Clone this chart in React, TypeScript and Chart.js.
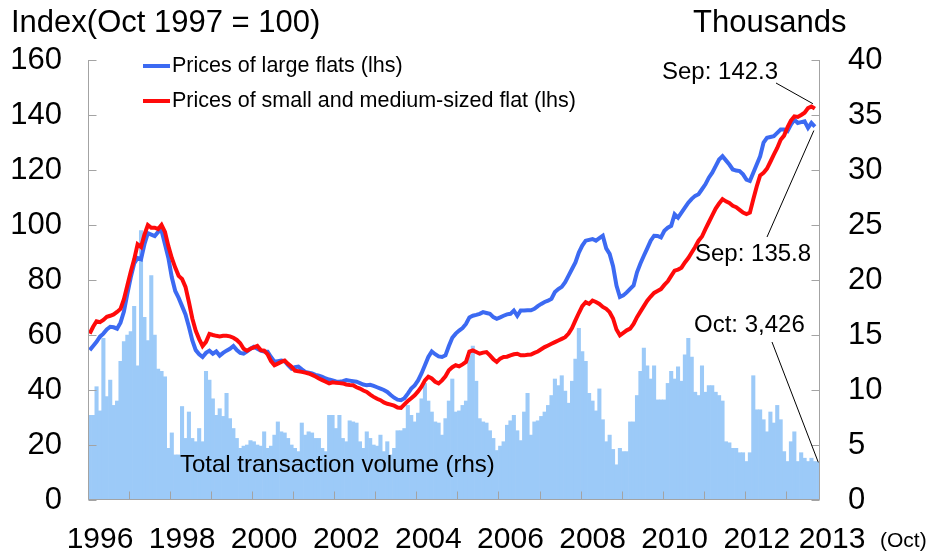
import React, { useEffect, useRef } from 'react';
import { Chart, registerables } from 'chart.js';

Chart.register(...registerables);

const FONT = '"Liberation Sans", Arial, Helvetica, sans-serif';

// Monthly, Jan 1996 .. Sep 2013 (index, Oct 1997 = 100)
const largeFlats = [
  54.5, 56, 57.5, 59.4, 60.5, 62, 63, 62.8, 62.3, 64.5, 68.5, 75,
  81, 86, 88, 87.5, 93, 97, 96.5, 96, 97.5, 98, 93, 88,
  81, 76, 73.5, 70.5, 67.5, 63, 58, 54.5, 53, 52, 53.5, 54.3,
  53.2, 54, 52.5, 53.5, 54.3, 55, 56, 54.5, 53.5, 53.2, 54, 55,
  55.7, 55, 54.3, 54, 53.9, 52, 50.3, 50.5, 50.7, 50.5, 49, 47.8,
  48.3, 48.5, 47.5, 46.6, 46.3, 46, 45.5, 45.2, 44.8, 44.2, 43.8, 43.5,
  43.1, 43, 43.2, 43.6, 43.4, 43.2, 43, 42.5, 42, 41.7, 41.9, 41.5,
  41, 40.5, 40, 39.3, 38.2, 37.2, 36.5, 36.3, 37, 38.7, 40.5, 41.7,
  43.5, 46, 49, 52, 54, 53, 52.2, 52, 52.6, 56, 59, 60.5,
  61.6, 62.5, 64, 66.4, 67, 67.3, 67.7, 68.3, 68, 67.7, 66.5, 65.9,
  66.4, 67, 67.5, 67.7, 68.9, 67, 68.9, 68.9, 69, 69, 69.5, 70.5,
  71.3, 72, 72.5, 73.2, 75.6, 76.7, 77.5, 79.2, 81.6, 84, 86.4, 90,
  92.5, 94.3, 94.6, 94.9, 94.3, 95.2, 96.1, 91.5, 89.5, 85, 78, 73.8,
  74.4, 75.5, 76.8, 78, 82.8, 86, 88.8, 91.5, 94.3, 96.1, 96, 95.5,
  97.9, 99, 99.7, 103.9, 102.7, 104.5, 106.3, 108.1, 109.5, 110.6, 111.2, 113,
  114.8, 117.2, 119, 121.4, 123.8, 125, 123.5, 122, 120.2, 119.8, 119.6, 118.4,
  116.5, 116, 119, 122, 125, 130, 131.7, 132, 132.3, 133.5, 134.7, 134.7,
  134.1, 136.5, 138.3, 137.1, 137.4, 137.7, 135.3, 137.1, 135.8,
];

const smallFlats = [
  60.5, 63, 65, 64.7, 65.5, 66.6, 67, 67.5, 68.4, 69.5, 73, 78,
  83, 87.5, 93, 92, 96.5, 100, 99, 99, 98.5, 100, 97.5, 92.3,
  88, 84.5, 81.5, 80.4, 77.5, 72, 66, 61.5, 58.5, 56, 57.5, 60.4,
  60, 59.7, 59.5, 59.7, 59.7, 59.5, 59, 58.2, 57, 55, 54.3, 55,
  55.5, 56, 54.5, 54.3, 53, 50.5, 49, 49.6, 50.2, 50.7, 49.5, 48.5,
  47, 46.8, 46.6, 46.3, 46, 45.5, 44.9, 44.2, 43.6, 43, 42.4, 42.8,
  42.6, 42.5, 42.4, 42, 41.8, 41.7, 41, 40.5, 39.8, 39.3, 38.3, 37.5,
  36.8, 36.3, 35.5, 35, 34.7, 34.3, 33.6, 33.5, 34.8, 36, 37, 38.1,
  39.5, 41.2, 43.5, 44.8, 44.2, 43, 42.4, 43.5, 45, 47.2, 48.3, 49,
  48.6, 49.3, 50.2, 54, 54.4, 53.8, 53.2, 53.6, 53.8, 52.6, 51.2, 50.2,
  51.4, 52, 52.1, 52.6, 53, 53.2, 52.6, 52.6, 52.8, 52.9, 53.5, 54,
  54.8, 55.6, 56.2, 56.8, 57.4, 58, 58.6, 59.2, 60.5, 62.5, 65.3, 68,
  70.5, 71.9, 71.3, 72.5, 72, 71.3, 70.2, 69.5, 68.3, 66, 62, 59.9,
  60.8, 61.7, 62.3, 64, 66.5, 68.5, 70.5, 72.5, 74, 75.3, 76, 76.7,
  78.2, 79.5, 81.5, 83.4, 83.8, 84.5, 86.4, 88, 90, 92, 94.3, 95.8,
  98.5, 101, 103.5, 106, 107.8, 109.4, 108.6, 108, 107, 106.5, 105.5, 104.5,
  104, 104.5, 109.4, 114, 118, 119, 120.5, 123, 125.6, 128, 131, 132.5,
  135.5, 138, 139.5, 139.3, 140, 140.8, 142.5, 143.1, 142.3,
];

// Monthly, Jan 1996 .. Oct 2013 (thousands)
const volume = [
  7.7, 7.7, 10.3, 8.1, 14.7, 9.4, 10.9, 8.6, 9.0, 12.6, 14.4, 15.0,
  15.3, 17.6, 12.2, 24.5, 16.6, 14.5, 20.4, 15.0, 11.9, 11.7, 11.2, 4.7,
  6.1, 4.1, 4.1, 8.5, 5.6, 8.0, 5.6, 5.3, 6.5, 5.3, 11.7, 10.9,
  9.2, 7.7, 8.3, 7.6, 9.7, 7.4, 6.5, 5.6, 4.7, 4.9, 5.0, 5.4,
  5.3, 5.0, 4.9, 6.2, 4.7, 4.9, 5.9, 7.1, 6.2, 6.1, 5.6, 5.0,
  4.7, 4.4, 7.0, 5.9, 6.2, 6.1, 5.6, 5.6, 4.7, 4.4, 7.7, 7.7,
  6.5, 7.7, 5.6, 5.3, 7.2, 7.1, 7.0, 5.3, 4.7, 6.2, 5.6, 5.0,
  4.9, 5.9, 4.4, 5.3, 4.1, 4.7, 6.3, 6.3, 6.5, 8.6, 7.7, 7.1,
  7.9, 9.2, 10.6, 9.0, 8.0, 7.1, 7.0, 5.9, 7.4, 9.0, 11.0, 8.0,
  8.1, 8.6, 9.0, 13.1, 14.0, 10.8, 7.4, 7.1, 7.0, 6.3, 5.6, 4.5,
  4.9, 5.3, 6.8, 7.2, 7.7, 6.3, 5.4, 8.0, 9.7, 5.9, 7.1, 7.2,
  7.6, 8.0, 8.6, 9.5, 11.0, 10.4, 11.3, 9.9, 8.8, 10.8, 12.8, 15.6,
  13.5, 12.6, 9.7, 9.0, 8.1, 10.1, 7.3, 5.3, 5.9, 4.6, 3.2, 4.7,
  4.4, 4.4, 7.1, 7.1, 9.5, 11.7, 13.8, 12.2, 11.0, 12.2, 9.1, 9.1,
  9.1, 10.6, 11.7, 11.0, 12.1, 10.8, 13.2, 14.7, 13.0, 9.8, 9.5, 12.2,
  9.8, 10.4, 10.4, 9.8, 9.5, 9.0, 5.3, 5.2, 4.7, 4.7, 4.3, 4.3,
  3.5, 4.3, 11.3, 8.2, 8.2, 7.3, 6.2, 8.0, 7.0, 8.6, 7.3, 4.4,
  3.5, 5.3, 6.2, 3.5, 4.3, 3.8, 3.5, 3.8, 3.5, 3.426,
];

const xTickLabels = ['1996', '1998', '2000', '2002', '2004', '2006', '2008', '2010', '2012', '2013'];
const xTickMonths = [0, 24, 48, 72, 96, 120, 144, 168, 192, 214];

const seriesNames = [
  'Prices of large flats (lhs)',
  'Prices of small and medium-sized flat (lhs)',
  'Total transaction volume (rhs)',
];

const BLUE = '#3c6af2';
const RED = '#ff0a0a';
const BAR = '#9ccaf8';

const toPoints = (arr: number[]) => arr.map((v, i) => ({ x: i + 0.5, y: v }));

const decor = {
  id: 'decor',
  afterDatasetsDraw(chart: any) {
    const { ctx, chartArea: ca, scales } = chart;
    const xs = scales.x;
    const ys = scales.y;
    const ys1 = scales.y1;
    ctx.save();

    // axes frame and inward ticks
    ctx.strokeStyle = '#a3a3a3';
    ctx.lineWidth = 1;
    const L = Math.round(ca.left) + 0.5;
    const R = Math.round(ca.right) - 0.5;
    const B = Math.round(ca.bottom) - 0.5;
    const T = ca.top;
    ctx.beginPath();
    ctx.moveTo(L, T);
    ctx.lineTo(L, B);
    ctx.lineTo(R, B);
    ctx.lineTo(R, T);
    ys.ticks.forEach((t: any) => {
      const p = Math.round(ys.getPixelForValue(t.value)) + 0.5;
      ctx.moveTo(L, p);
      ctx.lineTo(L + 8, p);
    });
    ys1.ticks.forEach((t: any) => {
      const p = Math.round(ys1.getPixelForValue(t.value)) + 0.5;
      ctx.moveTo(R - 8, p);
      ctx.lineTo(R, p);
    });
    for (let m = 12; m < volume.length; m += 12) {
      const p = Math.round(xs.getPixelForValue(m)) + 0.5;
      ctx.moveTo(p, B);
      ctx.lineTo(p, B - 8);
    }
    ctx.stroke();

    ctx.fillStyle = '#000';
    // axis titles
    ctx.textAlign = 'left';
    ctx.textBaseline = 'alphabetic';
    ctx.font = `31px ${FONT}`;
    ctx.fillText('Index(Oct 1997 = 100)', 11, 32);
    ctx.fillText('Thousands', 693, 32);

    // legend
    ctx.lineWidth = 4;
    ctx.lineCap = 'butt';
    ctx.strokeStyle = BLUE;
    ctx.beginPath();
    ctx.moveTo(143, 66);
    ctx.lineTo(170, 66);
    ctx.stroke();
    ctx.strokeStyle = RED;
    ctx.beginPath();
    ctx.moveTo(143, 101);
    ctx.lineTo(170, 101);
    ctx.stroke();
    ctx.font = `21.5px ${FONT}`;
    ctx.textBaseline = 'middle';
    ctx.fillText(seriesNames[0], 172, 66);
    ctx.fillText(seriesNames[1], 172, 101);

    // bar label
    ctx.font = `24px ${FONT}`;
    ctx.fillText(seriesNames[2], 180, 465);

    // annotations
    const lastI = smallFlats.length - 1;
    const lastRed = smallFlats[lastI];
    const lastBlue = largeFlats[largeFlats.length - 1];
    const lastVol = volume[volume.length - 1];
    const px = xs.getPixelForValue(lastI + 0.5);
    const pxV = xs.getPixelForValue(volume.length - 0.5);
    ctx.font = `24px ${FONT}`;
    ctx.fillText(`Sep: ${lastRed.toFixed(1)}`, 662, 72);
    ctx.fillText(`Sep: ${lastBlue.toFixed(1)}`, 695, 254);
    ctx.fillText(`Oct: ${Math.floor(lastVol)},${Math.round((lastVol % 1) * 1000)}`, 694, 325);

    ctx.strokeStyle = '#000';
    ctx.lineWidth = 1;
    ctx.beginPath();
    ctx.moveTo(776, 83);
    ctx.lineTo(px - 2, ys.getPixelForValue(lastRed) - 5);
    ctx.moveTo(767, 237);
    ctx.lineTo(px - 1, ys.getPixelForValue(lastBlue) + 4);
    ctx.moveTo(772, 342);
    ctx.lineTo(pxV, ys1.getPixelForValue(lastVol));
    ctx.stroke();

    // (Oct) note
    ctx.font = `21px ${FONT}`;
    ctx.textBaseline = 'middle';
    ctx.fillText('(Oct)', 880, 541);

    ctx.restore();
  },
};

export default function App() {
  const ref = useRef<HTMLCanvasElement | null>(null);

  useEffect(() => {
    if (!ref.current) return;
    const chart = new Chart(ref.current, {
      type: 'bar',
      data: {
        datasets: [
          {
            type: 'line',
            label: seriesNames[1],
            data: toPoints(smallFlats),
            borderColor: RED,
            borderWidth: 4,
            pointRadius: 0,
            tension: 0,
            yAxisID: 'y',
            order: 1,
          } as any,
          {
            type: 'line',
            label: seriesNames[0],
            data: toPoints(largeFlats),
            borderColor: BLUE,
            borderWidth: 4,
            pointRadius: 0,
            tension: 0,
            yAxisID: 'y',
            order: 2,
          } as any,
          {
            type: 'bar',
            label: seriesNames[2],
            data: toPoints(volume),
            backgroundColor: BAR,
            borderColor: BAR,
            borderWidth: 0,
            barPercentage: 1,
            categoryPercentage: 1,
            grouped: false,
            yAxisID: 'y1',
            order: 3,
          } as any,
        ],
      },
      options: {
        responsive: false,
        animation: false,
        layout: { padding: { top: 60, left: 0, right: 0, bottom: 0 } },
        plugins: { legend: { display: false }, tooltip: { enabled: false } },
        scales: {
          x: {
            type: 'linear',
            min: 0,
            max: volume.length,
            offset: false,
            grid: { display: false, drawTicks: false, offset: false },
            border: { display: false },
            afterBuildTicks: (s: any) => {
              s.ticks = xTickMonths.map((v) => ({ value: v }));
            },
            afterFit: (s: any) => {
              s.height = 60;
            },
            ticks: {
              autoSkip: false,
              maxRotation: 0,
              minRotation: 0,
              padding: 22,
              labelOffset: 12,
              color: '#000',
              font: { size: 30, family: FONT },
              callback: (v: any) => {
                const k = xTickMonths.indexOf(Number(v));
                return k >= 0 ? xTickLabels[k] : '';
              },
            },
          },
          y: {
            position: 'left',
            min: 0,
            max: 160,
            grid: { display: false, drawTicks: false },
            border: { display: false },
            afterFit: (s: any) => {
              s.width = 88;
            },
            ticks: { stepSize: 20, padding: 26, color: '#000', font: { size: 31, family: FONT } },
          },
          y1: {
            position: 'right',
            min: 0,
            max: 40,
            grid: { display: false, drawTicks: false },
            border: { display: false },
            afterFit: (s: any) => {
              s.width = 123;
            },
            ticks: { stepSize: 5, padding: 28, color: '#000', font: { size: 31, family: FONT } },
          },
        },
      } as any,
      plugins: [decor],
    });
    return () => chart.destroy();
  }, []);

  return (
    <div style={{ position: 'absolute', left: 0, top: 0, width: 943, height: 560, background: '#fff' }}>
      <canvas ref={ref} width={943} height={560} style={{ display: 'block' }} />
    </div>
  );
}
